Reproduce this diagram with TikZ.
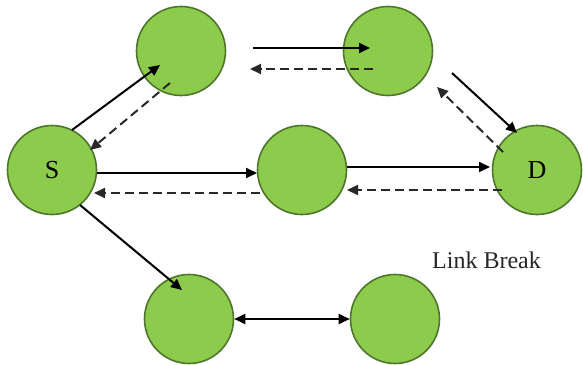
\documentclass[tikz,border=0pt]{standalone}
\usepackage{fontspec}
\setmainfont{Liberation Serif}
\usetikzlibrary{arrows.meta}
\definecolor{nodefill}{RGB}{141,203,77}
\definecolor{nodeborder}{RGB}{78,118,42}
\definecolor{dashcol}{RGB}{40,40,40}
\tikzset{
  netnode/.style={circle, draw=nodeborder, fill=nodefill, line width=1.6pt, minimum size=89pt, inner sep=0pt, font=\fontsize{26}{26}\selectfont},
  fwd/.style={draw=black, line width=2pt, -{Triangle[length=11pt,width=10pt]}},
  back/.style={draw=dashcol, line width=2pt, dash pattern=on 9pt off 5pt, -{Triangle[length=11pt,width=10pt]}},
  both/.style={draw=black, line width=2pt, {Triangle[length=11pt,width=10pt]}-{Triangle[length=11pt,width=10pt]}}
}
\begin{document}
\begin{tikzpicture}[x=1pt,y=-1pt]
\useasboundingbox (0,0) rectangle (583,364);
\node[netnode] (A) at (181,51) {};
\node[netnode] (B) at (388,51) {};
\node[netnode] (S) at (52,170) {S};
\node[netnode] (M) at (302,170) {};
\node[netnode] (D) at (537,170) {D};
\node[netnode] (E) at (189,319) {};
\node[netnode] (F) at (395,319) {};
\node[font=\fontsize{24}{24}\selectfont, anchor=base west, text=black!85, inner sep=0pt] (lb) at (432,268) {Link Break};
% S <-> A
\draw[fwd] ([shift={(20,-40)}]S.center) -- ([shift={(-21,14)}]A.center);
\draw[back] ([shift={(-11,32)}]A.center) -- ([shift={(38,-20)}]S.center);
% A <-> B
\draw[fwd] ([shift={(72,-3)}]A.center) -- ([shift={(-18,-3)}]B.center);
\draw[back] ([shift={(-15,18)}]B.center) -- ([shift={(69,18)}]A.center);
% B <-> D
\draw[fwd] ([shift={(64,22)}]B.center) -- ([shift={(-20,-37)}]D.center);
\draw[back] ([shift={(-34,-18)}]D.center) -- ([shift={(49,36)}]B.center);
% S <-> M
\draw[fwd] ([shift={(45,3)}]S.center) -- ([shift={(-45,3)}]M.center);
\draw[back] ([shift={(-42,23)}]M.center) -- ([shift={(42,23)}]S.center);
% M <-> D
\draw[fwd] ([shift={(45,-3)}]M.center) -- ([shift={(-47,-3)}]D.center);
\draw[back] ([shift={(-35,20)}]D.center) -- ([shift={(45,20)}]M.center);
% S -> E
\draw[fwd] ([shift={(28,35)}]S.center) -- ([shift={(-7,-29)}]E.center);
% E <-> F
\draw[both] (E.east) -- (F.west);
\end{tikzpicture}
\end{document}
